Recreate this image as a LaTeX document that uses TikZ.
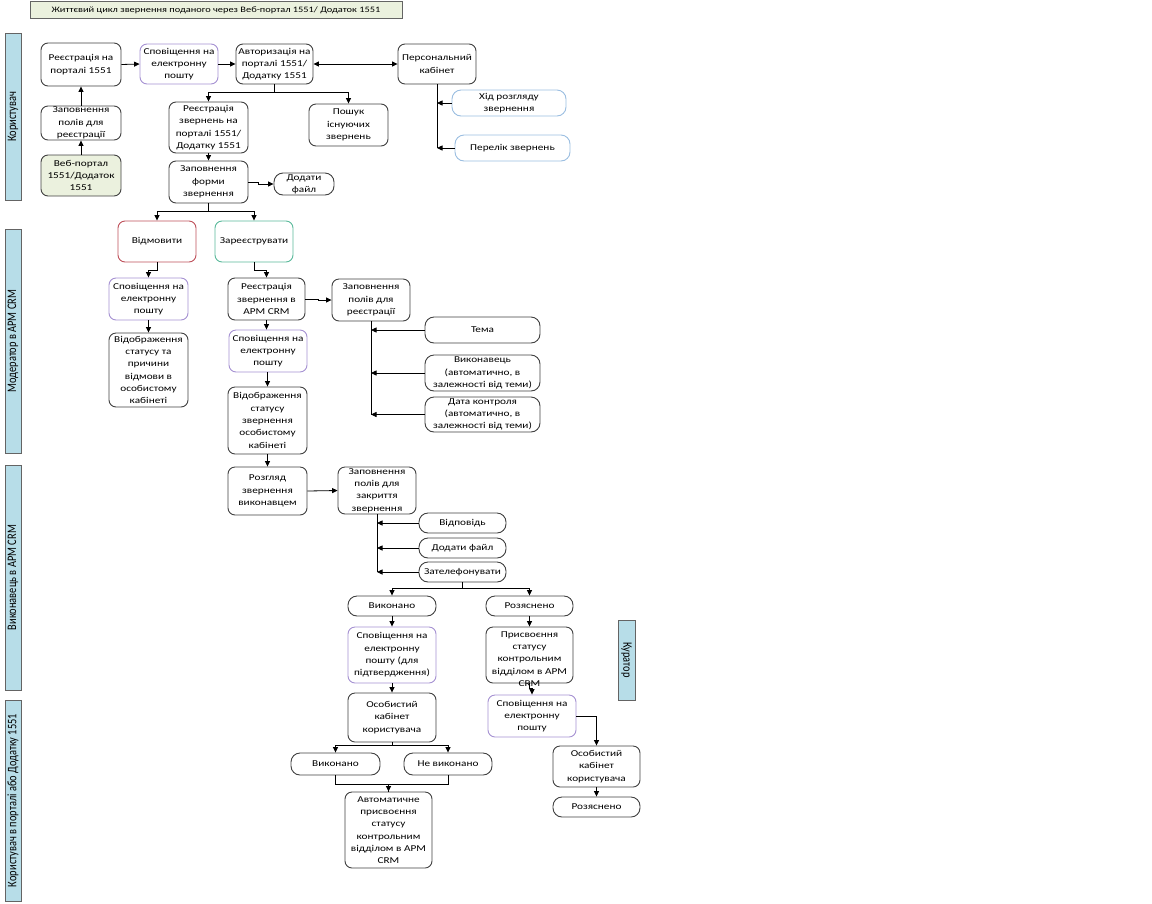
\documentclass[tikz,border=0pt]{standalone}
\usepackage{fontspec}
\setmainfont{Carlito}[FakeStretch=1.25]
\newfontfamily\lanefont{Carlito}[FakeStretch=0.8]
\usetikzlibrary{arrows.meta}

\definecolor{boxline}{RGB}{64,64,64}
\definecolor{mailline}{RGB}{165,145,210}
\definecolor{infoline}{RGB}{155,190,225}
\definecolor{noline}{RGB}{190,80,90}
\definecolor{yesline}{RGB}{90,185,155}
\definecolor{greenfill}{RGB}{235,241,222}
\definecolor{lanefill}{RGB}{183,221,232}
\definecolor{laneline}{RGB}{100,100,100}

\begin{document}
\begin{tikzpicture}[x=1pt,y=-1pt,
    every node/.style={font=\fontsize{9}{12.3}\selectfont},
    box/.style={draw=boxline, fill=white, line width=0.9pt, rounded corners=7pt, align=center, inner sep=0pt},
    pill/.style={box, rounded corners=9pt},
    mail/.style={box, draw=mailline},
    lane/.style={draw=laneline, fill=lanefill, line width=0.8pt, inner sep=0pt, minimum height=16, font=\lanefont\fontsize{13}{14}\selectfont},
    arr/.style={-{Triangle[length=5.5pt,width=5pt]}, line width=0.8pt, draw=black},
    link/.style={line width=0.8pt, draw=black}]
    \useasboundingbox (0,0) rectangle (1152,903);

    % title and lanes
    \node[draw=laneline, fill=greenfill, line width=0.8pt, minimum width=372, minimum height=17, font=\fontsize{8.3}{10}\selectfont] (title) at (216,10) {Життєвий цикл звернення поданого через Веб-портал 1551/ Додаток 1551};
    \node[lane, rotate=90, minimum width=167] (lane1) at (13,116.5) {Користувач};
    \node[lane, rotate=90, minimum width=224] (lane2) at (13,341) {Модератор в АРМ CRM};
    \node[lane, rotate=90, minimum width=225] (lane3) at (13,577.5) {Виконавець в АРМ CRM};
    \node[lane, rotate=90, minimum width=201] (lane4) at (13,800.5) {Користувач в порталі або Додатку 1551};
    \node[lane, rotate=-90, minimum width=80, minimum height=17] (lane5) at (626.5,660) {Куратор};

    % user
    \node[box, minimum width=80, minimum height=43] (reg) at (81,64.5) {Реєстрація на\\порталі 1551};
    \node[mail, minimum width=78, minimum height=40] (mail1) at (179,64) {Сповіщення на\\електронну\\пошту};
    \node[box, minimum width=77, minimum height=40] (auth) at (274.5,64) {Авторизація на\\порталі 1551/\\Додатку 1551};
    \node[box, minimum width=78, minimum height=40] (cab) at (437,64) {Персональний\\кабінет};
    \node[box, minimum width=80, minimum height=34] (fill) at (81,123) {Заповнення\\полів для\\реєстрації};
    \node[box, fill=greenfill, minimum width=80, minimum height=41] (web) at (81,175.5) {Веб-портал\\1551/Додаток\\1551};
    \node[box, minimum width=79, minimum height=51] (regapp) at (208.5,127.5) {Реєстрація\\звернень на\\порталі 1551/\\Додатку 1551};
    \node[box, minimum width=79, minimum height=42] (search) at (348.5,125) {Пошук\\існуючих\\звернень};
    \node[pill, draw=infoline, minimum width=114, minimum height=26] (progress) at (509,103) {Хід розгляду\\звернення};
    \node[pill, draw=infoline, minimum width=115, minimum height=26] (list) at (512.5,148) {Перелік звернень};
    \node[box, minimum width=79, minimum height=42] (form) at (208.5,182) {Заповнення\\форми\\звернення};
    \node[pill, minimum width=60, minimum height=22] (addfile) at (304,184) {Додати\\файл};

    % moderator
    \node[box, draw=noline, minimum width=78, minimum height=41] (reject) at (157,241.5) {Відмовити};
    \node[box, draw=yesline, minimum width=78, minimum height=41] (accept) at (254,241.5) {Зареєструвати};
    \node[mail, minimum width=79, minimum height=42] (mail2) at (148.5,299) {Сповіщення на\\електронну\\пошту};
    \node[box, minimum width=79, minimum height=74] (status1) at (148.5,370) {Відображення\\статусу та\\причини\\відмови в\\особистому\\кабінеті};
    \node[box, minimum width=77, minimum height=42] (regcrm) at (266.5,299) {Реєстрація\\звернення в\\АРМ CRM};
    \node[box, minimum width=78, minimum height=42] (fillcrm) at (371,300) {Заповнення\\полів для\\реєстрації};
    \node[pill, minimum width=115, minimum height=26] (topic) at (482.5,330) {Тема};
    \node[pill, minimum width=115, minimum height=36] (executor) at (482.5,373) {Виконавець\\(автоматично, в\\залежності від теми)};
    \node[pill, minimum width=115, minimum height=35] (deadline) at (482.5,414.5) {Дата контроля\\(автоматично, в\\залежності від теми)};
    \node[mail, minimum width=78, minimum height=42] (mail3) at (268,351) {Сповіщення на\\електронну\\пошту};
    \node[box, minimum width=79, minimum height=67] (status2) at (267.5,420.5) {Відображення\\статусу\\звернення\\особистому\\кабінеті};

    % executor
    \node[box, minimum width=79, minimum height=48] (review) at (267.5,491) {Розгляд\\звернення\\виконавцем};
    \node[box, minimum width=78, minimum height=47] (fillclose) at (377,490.5) {Заповнення\\полів для\\закриття\\звернення};
    \node[pill, minimum width=87, minimum height=20] (answer) at (462.5,523) {Відповідь};
    \node[pill, minimum width=87, minimum height=20] (addfile2) at (462.5,548) {Додати файл};
    \node[pill, minimum width=87, minimum height=20] (call) at (462.5,572) {Зателефонувати};
    \node[pill, minimum width=88, minimum height=20] (done) at (392,606) {Виконано};
    \node[pill, minimum width=87, minimum height=20] (explained) at (529.5,606) {Розяснено};
    \node[mail, minimum width=88, minimum height=56] (mail4) at (392,655) {Сповіщення на\\електронну\\пошту (для\\підтвердження)};
    \node[box, minimum width=87, minimum height=56] (assign) at (529.5,655) {};
    \node[align=center, inner sep=0pt] at (529.5,659) {Присвоєння\\статусу\\контрольним\\відділом в АРМ\\CRM};

    % user in portal
    \node[box, minimum width=88, minimum height=49] (ucab) at (392,717.5) {Особистий\\кабінет\\користувача};
    \node[mail, minimum width=88, minimum height=42] (mail5) at (532,716) {Сповіщення на\\електронну\\пошту};
    \node[pill, minimum width=89, minimum height=22] (done2) at (335.5,764) {Виконано};
    \node[pill, minimum width=88, minimum height=22] (notdone) at (448,764) {Не виконано};
    \node[box, minimum width=87, minimum height=76] (auto) at (388.5,830) {Автоматичне\\присвоєння\\статусу\\контрольним\\відділом в АРМ\\CRM};
    \node[box, minimum width=87, minimum height=41] (ucab2) at (596.5,766.5) {Особистий\\кабінет\\користувача};
    \node[pill, minimum width=87, minimum height=20] (explained2) at (596.5,807) {Розяснено};

    % connectors
    \draw[arr] (reg.east) -- (mail1.west);
    \draw[arr] (mail1.east) -- (auth.west);
    \draw[{Triangle[length=5.5pt,width=5pt]}-{Triangle[length=5.5pt,width=5pt]}, line width=0.8pt] (auth.east) -- (cab.west);
    \draw[arr] (web.north) -- (fill.south);
    \draw[arr] (fill.north) -- (reg.south);
    \draw[arr] (auth.south) -- ++(0,8) -| (regapp.north);
    \draw[arr] (auth.south) -- ++(0,8) -| (search.north);
    \draw[link] (cab.south) -- (cab.south |- list.west);
    \draw[arr] (progress.west) -- (progress.west -| cab.south);
    \draw[arr] (list.west) -- (list.west -| cab.south);
    \draw[arr] (regapp.south) -- (form.north);
    \draw[arr] (form.east) -- ++(10,0) |- (addfile.west);
    \draw[arr] (form.south) -- ++(0,8) -| (reject.north);
    \draw[arr] (form.south) -- ++(0,8) -| (accept.north);

    \draw[arr] (reject.south) -- ++(0,8) -| (mail2.north);
    \draw[arr] (accept.south) -- ++(0,8) -| (regcrm.north);
    \draw[arr] (mail2.south) -- (status1.north);
    \draw[arr] (regcrm.east) -- ++(13,0) |- (fillcrm.west);
    \draw[arr] (regcrm.south) -- (mail3.north -| regcrm.south);
    \draw[arr] (mail3.south -| status2.north) -- (status2.north);
    \draw[link] (fillcrm.south) -- (fillcrm.south |- deadline.west);
    \draw[arr] (topic.west) -- (topic.west -| fillcrm.south);
    \draw[arr] (executor.west) -- (executor.west -| fillcrm.south);
    \draw[arr] (deadline.west) -- (deadline.west -| fillcrm.south);

    \draw[arr] (status2.south) -- (review.north);
    \draw[arr] (review.east) -- (fillclose.west);
    \draw[link] (fillclose.south) -- (fillclose.south |- call.west);
    \draw[arr] (answer.west) -- (answer.west -| fillclose.south);
    \draw[arr] (addfile2.west) -- (addfile2.west -| fillclose.south);
    \draw[arr] (call.west) -- (call.west -| fillclose.south);
    \draw[arr] (call.south) -- ++(0,6) -| (done.north);
    \draw[arr] (call.south) -- ++(0,6) -| (explained.north);
    \draw[arr] (done.south) -- (mail4.north);
    \draw[arr] (explained.south) -- (assign.north);
    \draw[arr] (mail4.south) -- (ucab.north);
    \draw[arr] (assign.south) -- ++(0,5) -| (mail5.north);

    \draw[arr] (ucab.south) -- ++(0,3) -| (done2.north);
    \draw[arr] (ucab.south) -- ++(0,3) -| (notdone.north);
    \draw[link] (done2.south) -- ++(0,9) -| (auto.north);
    \draw[arr] (notdone.south) -- ++(0,9) -| (auto.north);
    \draw[arr] (mail5.east) -| (ucab2.north);
    \draw[arr] (ucab2.south) -- (explained2.north);
\end{tikzpicture}
\end{document}
